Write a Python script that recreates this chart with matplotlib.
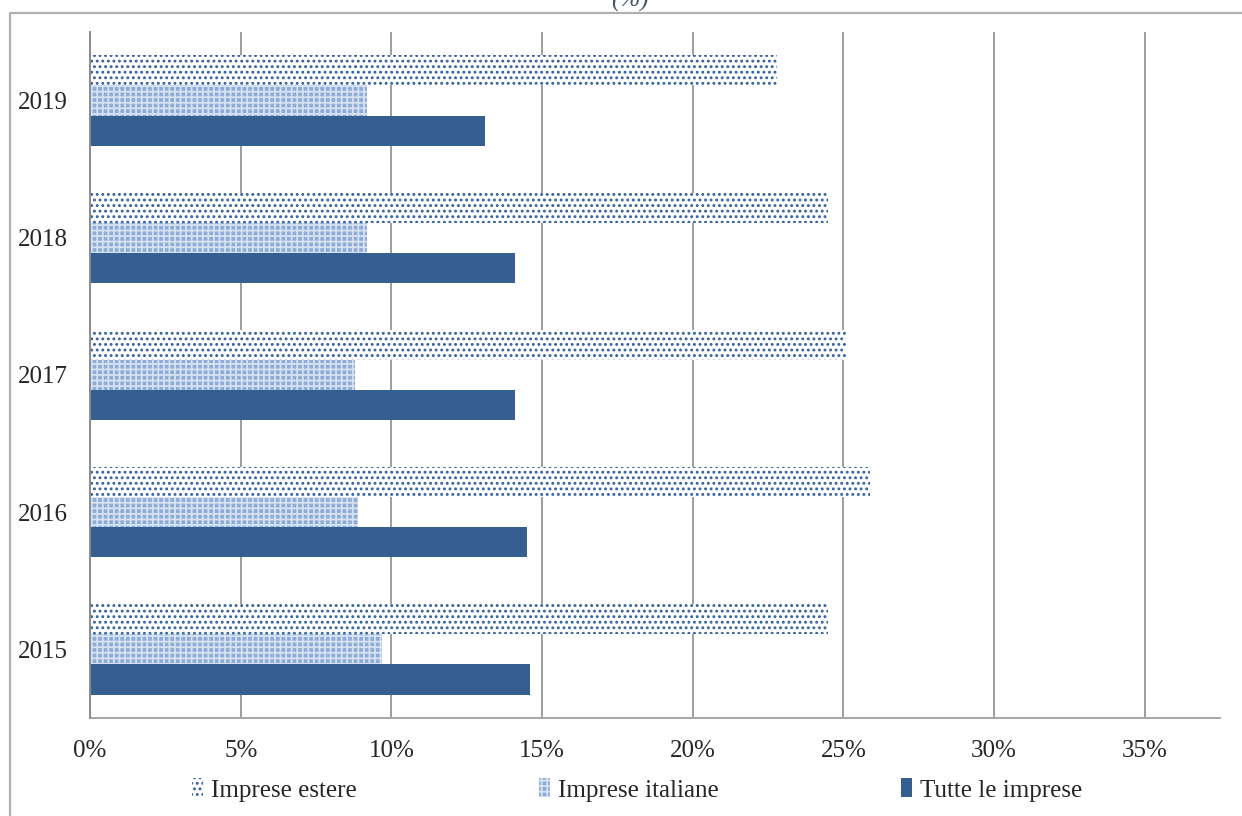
import matplotlib
matplotlib.use("Agg")
import matplotlib.pyplot as plt
from matplotlib.lines import Line2D
from matplotlib.ticker import FuncFormatter
import numpy as np

years = ["2015", "2016", "2017", "2018", "2019"]
estere = [24.5, 25.9, 25.1, 24.5, 22.8]
italiane = [9.7, 8.9, 8.8, 9.2, 9.2]
tutte = [14.6, 14.5, 14.1, 14.1, 13.1]
series_labels = ["Imprese estere", "Imprese italiane", "Tutte le imprese"]
x_ticks = [0, 5, 10, 15, 20, 25, 30, 35]

plt.rcParams["font.family"] = ["Liberation Serif", "DejaVu Serif"]
plt.rcParams["hatch.linewidth"] = 1.3

fig = plt.figure(figsize=(12.42, 8.16), dpi=100)
ax = fig.add_axes([0.0725, 0.1201, 0.9098, 0.8407])

pos = np.arange(len(years))
h = 0.22
dark = "#355f91"

b_est = ax.barh(pos + h, estere, height=h, color="white", edgecolor="#33609e",
                linewidth=0, hatch="...", label=series_labels[0], zorder=2)
b_ita = ax.barh(pos, italiane, height=h, color="#8eacd8", edgecolor="#d6e2f2",
                linewidth=0, hatch="+++", label=series_labels[1], zorder=2)
b_tut = ax.barh(pos - h, tutte, height=h, color=dark, edgecolor=dark,
                linewidth=0, label=series_labels[2], zorder=2)

ax.set_xlim(0, 37.5)
ax.set_ylim(-0.5, 4.5)
ax.set_yticks(pos)
ax.set_yticklabels(years)
ax.set_xticks(x_ticks)
ax.xaxis.set_major_formatter(FuncFormatter(lambda v, p: f"{v:.0f}%"))
ax.tick_params(axis="both", length=0, labelsize=18, colors="#262626")
ax.tick_params(axis="y", pad=16)
ax.tick_params(axis="x", pad=16)

ax.grid(axis="x", color="#8c8c8c", linewidth=1.2, zorder=0)
ax.set_axisbelow(True)
for s in ["top", "right"]:
    ax.spines[s].set_visible(False)
ax.spines["left"].set_color("#8c8c8c")
ax.spines["left"].set_linewidth(1.4)
ax.spines["left"].set_zorder(3)
ax.spines["bottom"].set_color("#a6a6a6")
ax.spines["bottom"].set_linewidth(1.4)

leg = fig.legend(handles=[b_est, b_ita, b_tut], labels=series_labels,
                 loc="center", bbox_to_anchor=(0.513, 0.032), ncol=3,
                 frameon=False, fontsize=18, handlelength=0.45, handleheight=0.8,
                 handletextpad=0.3, columnspacing=7.3)
for t in leg.get_texts():
    t.set_color("#262626")

# outer frame of the chart area
fig.add_artist(Line2D([10 / 1242, 10 / 1242, 1.0], [0.0, 1 - 13 / 816, 1 - 13 / 816],
                      transform=fig.transFigure, color="#b0b0b0", linewidth=1.6))

# unit caption at the top edge
fig.text(0.507, 0.999, "(%)", ha="center", va="center", fontsize=18,
         style="italic", color="#44546a")

fig.savefig("out.png", dpi=100)
